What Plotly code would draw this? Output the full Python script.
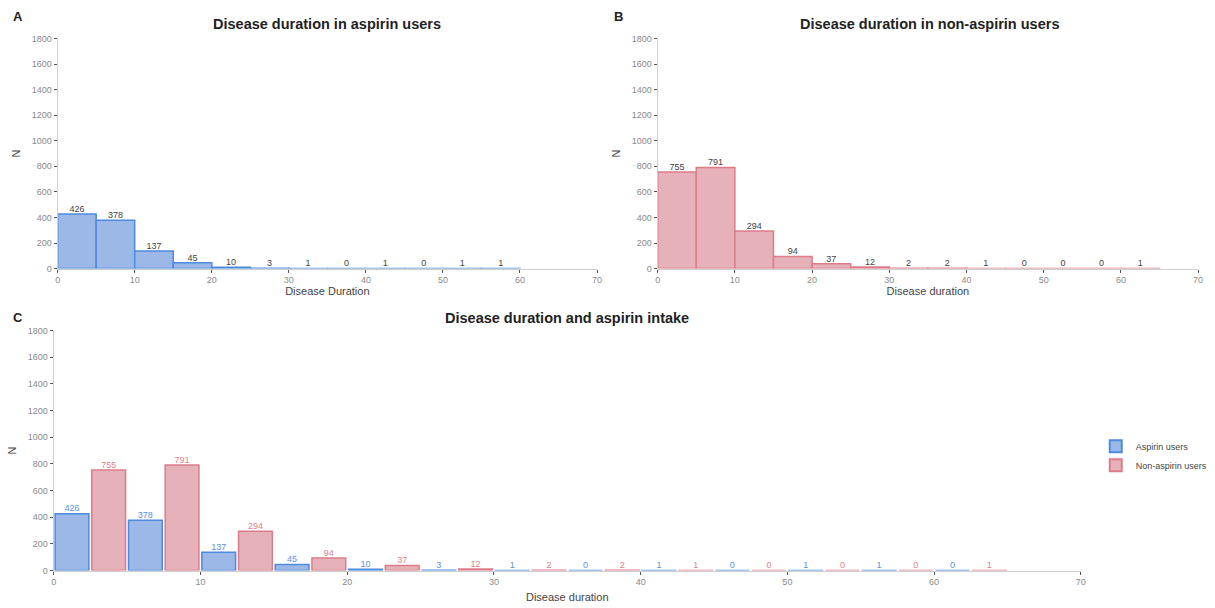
import plotly.graph_objects as go

# Disease duration bins (years), width 5
bin_starts = [0, 5, 10, 15, 20, 25, 30, 35, 40, 45, 50, 55, 60]
bin_width = 5

# Counts per bin
aspirin_counts = [426, 378, 137, 45, 10, 3, 1, 0, 1, 0, 1, 1, 0]
non_aspirin_counts = [755, 791, 294, 94, 37, 12, 2, 2, 1, 0, 0, 0, 1]

# Panel A shows 12 bins (to 60), panel B and C 13 bins (to 65)
n_bins_a = 12
n_bins_b = 13

y_ticks = [0, 200, 400, 600, 800, 1000, 1200, 1400, 1600, 1800]
x_ticks = [0, 10, 20, 30, 40, 50, 60, 70]

BLUE_FILL = "#9bb8e6"
BLUE_LINE = "#4d8ae0"
BLUE_TEXT = "#5b90e3"
RED_FILL = "#e6b1b8"
RED_LINE = "#dc7c89"
RED_TEXT = "#e07f8c"
FONT = "Liberation Sans, Arial, sans-serif"

W, H = 1215, 608

fig = go.Figure()

# ---- Panel A: aspirin users ----
xa = [s + bin_width / 2 for s in bin_starts[:n_bins_a]]
fig.add_trace(go.Bar(
    x=xa, y=aspirin_counts[:n_bins_a], width=bin_width,
    marker=dict(color=BLUE_FILL, line=dict(color=BLUE_LINE, width=1.5)),
    xaxis="x", yaxis="y", showlegend=False, hoverinfo="x+y",
))
fig.add_trace(go.Scatter(
    x=xa, y=aspirin_counts[:n_bins_a], mode="text",
    text=[str(v) for v in aspirin_counts[:n_bins_a]],
    textposition="top center",
    textfont=dict(family=FONT, size=9, color="#444444"),
    xaxis="x", yaxis="y", showlegend=False, hoverinfo="skip",
))

# ---- Panel B: non-aspirin users ----
xb = [s + bin_width / 2 for s in bin_starts[:n_bins_b]]
fig.add_trace(go.Bar(
    x=xb, y=non_aspirin_counts[:n_bins_b], width=bin_width,
    marker=dict(color=RED_FILL, line=dict(color=RED_LINE, width=1.5)),
    xaxis="x2", yaxis="y2", showlegend=False, hoverinfo="x+y",
))
fig.add_trace(go.Scatter(
    x=xb, y=non_aspirin_counts[:n_bins_b], mode="text",
    text=[str(v) for v in non_aspirin_counts[:n_bins_b]],
    textposition="top center",
    textfont=dict(family=FONT, size=9, color="#444444"),
    xaxis="x2", yaxis="y2", showlegend=False, hoverinfo="skip",
))

# ---- Panel C: side-by-side within each bin ----
half = bin_width / 2
xc_a = [s + half / 2 for s in bin_starts]
xc_n = [s + half + half / 2 for s in bin_starts]
bar_w = half * 0.92
fig.add_trace(go.Bar(
    x=xc_a, y=aspirin_counts, width=bar_w, name="Aspirin users",
    marker=dict(color=BLUE_FILL, line=dict(color=BLUE_LINE, width=1.5)),
    xaxis="x3", yaxis="y3", showlegend=True, hoverinfo="x+y",
))
fig.add_trace(go.Bar(
    x=xc_n, y=non_aspirin_counts, width=bar_w, name="Non-aspirin users",
    marker=dict(color=RED_FILL, line=dict(color=RED_LINE, width=1.5)),
    xaxis="x3", yaxis="y3", showlegend=True, hoverinfo="x+y",
))
fig.add_trace(go.Scatter(
    x=xc_a, y=aspirin_counts, mode="text",
    text=[str(v) for v in aspirin_counts], textposition="top center",
    textfont=dict(family=FONT, size=9, color=BLUE_TEXT),
    xaxis="x3", yaxis="y3", showlegend=False, hoverinfo="skip",
))
fig.add_trace(go.Scatter(
    x=xc_n, y=non_aspirin_counts, mode="text",
    text=[str(v) for v in non_aspirin_counts], textposition="top center",
    textfont=dict(family=FONT, size=9, color=RED_TEXT),
    xaxis="x3", yaxis="y3", showlegend=False, hoverinfo="skip",
))


def xaxis_style(domain, anchor, title, standoff=2):
    return dict(
        domain=domain, anchor=anchor, range=[0, 70],
        tickvals=x_ticks, ticktext=[str(t) for t in x_ticks],
        showline=True, linecolor="#cfcfcf", linewidth=1.2,
        ticks="outside", ticklen=3, tickcolor="#555555", tickwidth=1,
        tickfont=dict(family=FONT, size=9, color="#8a8a8a"),
        showgrid=False, zeroline=False,
        title=dict(text=title, font=dict(family=FONT, size=11, color="#444444"), standoff=standoff),
    )


def yaxis_style(domain, anchor):
    return dict(
        domain=domain, anchor=anchor, range=[0, 1800],
        tickvals=y_ticks, ticktext=[str(t) for t in y_ticks],
        showline=True, linecolor="#cfcfcf", linewidth=1.2,
        ticks="outside", ticklen=3, tickcolor="#555555", tickwidth=1,
        tickfont=dict(family=FONT, size=9, color="#8a8a8a"),
        showgrid=False, zeroline=False,
        title=dict(text="N", font=dict(family=FONT, size=11, color="#444444"), standoff=8),
    )


row1_y = [1 - 268 / H, 1 - 34 / H]
row2_y = [1 - 575 / H, 1 - 331 / H]

fig.update_layout(
    width=W, height=H,
    margin=dict(l=0, r=0, t=0, b=0),
    paper_bgcolor="white", plot_bgcolor="white",
    font=dict(family=FONT),
    barmode="overlay",
    xaxis=xaxis_style([55 / W, 598 / W], "y", "Disease Duration"),
    yaxis=yaxis_style(row1_y, "x"),
    xaxis2=xaxis_style([659 / W, 1203 / W], "y2", "Disease duration"),
    yaxis2=yaxis_style(row1_y, "x2"),
    xaxis3=xaxis_style([51 / W, 1085 / W], "y3", "Disease duration", standoff=6),
    yaxis3=yaxis_style(row2_y, "x3"),
    legend=dict(
        x=1100 / W, y=1 - 434 / H, xanchor="left", yanchor="top",
        font=dict(family=FONT, size=9, color="#444444"),
        bgcolor="rgba(0,0,0,0)", tracegroupgap=0, itemsizing="constant",
    ),
)

titles = [
    ("Disease duration in aspirin users", 326, 19),
    ("Disease duration in non-aspirin users", 933, 19),
    ("Disease duration and aspirin intake", 568, 318),
]
for text, cx, cy in titles:
    fig.add_annotation(
        text=f"<b>{text}</b>", xref="paper", yref="paper",
        x=cx / W, y=1 - cy / H, xanchor="center", yanchor="middle",
        showarrow=False, font=dict(family=FONT, size=14.5, color="#222222"),
    )

for letter, lx, ly in [("A", 15, 12), ("B", 620, 12), ("C", 15, 318)]:
    fig.add_annotation(
        text=f"<b>{letter}</b>", xref="paper", yref="paper",
        x=lx / W, y=1 - ly / H, xanchor="center", yanchor="middle",
        showarrow=False, font=dict(family=FONT, size=13, color="#222222"),
    )

fig.write_html("out.html")
